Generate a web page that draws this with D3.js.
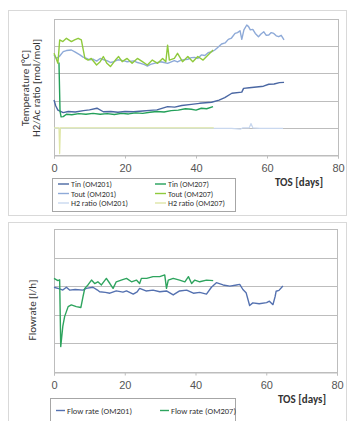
<!DOCTYPE html>
<html>
<head>
<meta charset="utf-8">
<script src="https://cdn.jsdelivr.net/npm/d3@7/dist/d3.min.js"></script>
<style>
  body { margin: 0; background: #fff; }
  svg { display: block; font-family: Calibri, Carlito, "Liberation Sans", Arial, sans-serif; }
</style>
</head>
<body>
<svg id="chart" width="350" height="421"></svg>
<script>
// x ticks (TOS days)
const xTicks = [0, 20, 40, 60, 80];

// temperature panel, [day, value], value in grid units (no y labels in source)
const tinOM201 = [[0,2.02],[0.5,1.8],[1.1,1.65],[2.6,1.56],[4,1.6],[6,1.58],[8.3,1.63],[10,1.66],[12.1,1.72],[13.9,1.59],[16,1.6],[18,1.57],[20,1.6],[22.4,1.59],[25,1.62],[27,1.64],[29,1.66],[32,1.78],[34,1.76],[36,1.82],[38.7,1.86],[41,1.9],[44.4,1.94],[46.5,2.02],[48.1,2.11],[50.1,2.27],[52.9,2.31],[53.4,2.45],[55,2.47],[57.7,2.51],[59,2.53],[60.5,2.6],[62,2.61],[63.5,2.66],[64.8,2.67]];
const toutOM201 = [[0,3.68],[0.7,3.55],[1.5,3.62],[2.6,3.8],[3.5,3.84],[4.9,3.86],[6,3.78],[7.3,3.68],[8.2,3.6],[9.2,3.55],[10,3.5],[11.1,3.52],[12,3.45],[13,3.55],[14,3.5],[14.9,3.47],[16,3.4],[16.8,3.43],[18,3.5],[18.7,3.49],[20,3.45],[20.6,3.43],[22.5,3.46],[23.5,3.4],[24.4,3.37],[25.5,3.32],[26.3,3.27],[27.2,3.33],[28.2,3.37],[30.1,3.43],[31,3.4],[32,3.37],[33.9,3.47],[34.8,3.42],[35.8,3.49],[37.7,3.52],[38.7,3.58],[39.6,3.59],[40.5,3.55],[41.5,3.68],[42.5,3.66],[43.4,3.76],[44.5,3.8],[45.3,3.86],[46.2,3.96],[47.2,4.08],[48.2,4.12],[49.1,4.25],[50,4.3],[51,4.47],[51.7,4.5],[52.4,4.57],[52.9,4.25],[53.5,4.6],[54.3,4.78],[54.8,4.72],[55.3,4.6],[56,4.62],[56.7,4.47],[57.6,4.35],[58.3,4.45],[59.1,4.53],[59.8,4.4],[60.5,4.41],[61.2,4.5],[61.9,4.47],[62.6,4.38],[63.3,4.35],[64,4.4],[64.8,4.23]];
const h2OM201 = [[0,0.98],[10,0.98],[20,0.98],[30,0.98],[40,0.98],[50,0.98],[52.5,0.95],[53.2,1.0],[55,1.0],[55.5,1.16],[56,1.0],[58,0.98],[62,0.98],[64.5,0.98]];
const tinOM207 = [[1.4,3.4],[1.7,1.6],[2.0,1.4],[2.6,1.41],[3.5,1.5],[5,1.48],[7,1.52],[9,1.5],[11,1.53],[13,1.5],[15,1.52],[17,1.49],[19,1.53],[21,1.51],[23,1.55],[25,1.53],[27,1.57],[29,1.6],[31,1.58],[33,1.63],[35,1.65],[37,1.7],[38.7,1.68],[40,1.65],[41.5,1.72],[43,1.7],[44.8,1.78]];
const toutOM207 = [[0,3.74],[0.6,3.55],[1.1,3.37],[1.6,4.23],[2.5,4.17],[3.5,4.29],[4.9,4.17],[5.8,4.23],[6.8,4.29],[7.7,4.23],[8.7,3.55],[9.6,3.49],[10.5,3.55],[12,3.31],[13,3.43],[13.9,3.62],[14.9,3.37],[15.9,3.25],[17.3,3.49],[18.2,3.62],[19.2,3.43],[20.6,3.55],[22,3.37],[23.5,3.55],[24.9,3.43],[26.3,3.31],[27.7,3.49],[29.2,3.37],[30.6,3.55],[31.5,3.43],[32,4.04],[32.5,3.49],[33.9,3.55],[34.8,3.74],[36.2,3.43],[37.7,3.62],[39.1,3.43],[40.5,3.62],[42,3.49],[43.4,3.68],[44.8,3.86]];
const h2OM207 = [[0,1.0],[1.4,1.0],[1.6,0.05],[1.8,1.0],[10,1.0],[20,1.0],[30,1.0],[40,1.0],[45,1.0]];

// flow panel
const flowOM201 = [[0,2.96],[1.6,2.9],[2.5,2.86],[3.5,2.96],[4.4,2.86],[6,2.88],[8.2,2.86],[9.1,2.92],[11,2.96],[12.3,2.86],[12.9,2.8],[14.5,2.78],[15.8,2.75],[17.6,2.83],[19.5,2.79],[20.5,2.83],[22.4,2.72],[23.5,2.8],[24.2,2.92],[26,2.83],[28,2.86],[29.9,2.8],[31.8,2.83],[33.7,2.69],[35.5,2.83],[37.5,2.86],[39.4,2.75],[41.2,2.78],[43.1,2.72],[44.5,2.96],[45.9,3.12],[47.8,3.04],[49.7,3.0],[51.6,3.04],[52.5,3.06],[53.4,2.88],[54.3,2.77],[55.3,2.32],[56.2,2.41],[58,2.38],[60.1,2.42],[60.9,2.47],[61.9,2.35],[62.5,2.63],[62.8,2.82],[63.6,2.85],[64.7,3.0]];
const flowOM207 = [[0,3.27],[1.1,3.19],[1.6,3.22],[1.9,0.88],[2.5,1.6],[3.0,1.93],[4.0,2.28],[4.9,2.34],[6.3,2.28],[7.6,2.25],[8.2,2.63],[8.7,2.92],[9.6,3.04],[10.6,3.21],[11.5,3.09],[12.4,3.15],[13.4,3.04],[14.8,3.27],[15.8,3.09],[16.7,2.92],[17.6,3.15],[19,3.21],[20.5,3.27],[21.9,3.15],[23.3,3.21],[24.2,3.09],[24.7,3.27],[26.2,3.27],[28,3.33],[29.9,3.33],[31.3,3.39],[31.8,2.92],[32.3,3.21],[33.7,3.27],[35.5,3.21],[37,3.15],[38,3.33],[38.9,3.09],[39.8,3.21],[41.2,3.15],[43.1,3.21],[45,3.19]];

const svg = d3.select('#chart');

// outer frames
svg.append('rect').attr('x', 8.5).attr('y', 10.5).attr('width', 338).attr('height', 205)
  .attr('fill', 'none').attr('stroke', '#d9d9d9');
svg.append('rect').attr('x', 8.5).attr('y', 222.5).attr('width', 338).attr('height', 210)
  .attr('fill', 'none').attr('stroke', '#d9d9d9');

function drawPanel(cfg) {
  const x = d3.scaleLinear().domain([0, 80]).range([cfg.left, cfg.right]);
  const y = d3.scaleLinear().domain([0, 5]).range([cfg.bottom, cfg.top]);
  const g = svg.append('g');

  // horizontal grid
  g.selectAll('line.grid').data(d3.range(0, 6)).join('line')
    .attr('x1', cfg.left).attr('x2', cfg.right)
    .attr('y1', d => Math.round(y(d)) + 0.5).attr('y2', d => Math.round(y(d)) + 0.5)
    .attr('stroke', '#bdbdbd').attr('stroke-width', 1);
  // plot box sides
  g.append('line').attr('x1', cfg.left + 0.5).attr('x2', cfg.left + 0.5)
    .attr('y1', cfg.top).attr('y2', cfg.bottom + 3).attr('stroke', '#bdbdbd');
  g.append('line').attr('x1', cfg.right + 0.5).attr('x2', cfg.right + 0.5)
    .attr('y1', cfg.top).attr('y2', cfg.bottom + 3).attr('stroke', '#bdbdbd');

  // x axis
  const ax = g.append('g').attr('transform', 'translate(0,' + (Math.round(cfg.bottom) + 0.5) + ')')
    .call(d3.axisBottom(x).tickValues(xTicks).tickSize(3).tickPadding(6));
  ax.select('.domain').attr('stroke', '#bdbdbd');
  ax.selectAll('.tick line').attr('stroke', '#bdbdbd');
  ax.selectAll('.tick text').attr('font-size', 11).attr('fill', '#555');

  g.append('text').attr('x', cfg.tosX).attr('y', cfg.bottom + 31)
    .attr('text-anchor', 'end').attr('font-size', 11).attr('font-weight', 'bold').attr('fill', '#333')
    .text('TOS [days]');

  // y label lines
  cfg.ylabels.forEach((t, i) => {
    g.append('text')
      .attr('transform', 'translate(' + cfg.ylabelX[i] + ',' + cfg.ylabelY + ') rotate(-90)')
      .attr('text-anchor', 'middle').attr('font-size', 11).attr('fill', '#333')
      .text(t);
  });

  const line = d3.line().x(d => x(d[0])).y(d => y(d[1]));
  cfg.series.forEach(s => {
    g.append('path').datum(s.data).attr('d', line)
      .attr('fill', 'none').attr('stroke', s.color).attr('stroke-width', s.w || 1.4)
      .attr('stroke-linejoin', 'round');
  });

  // legend
  const L = cfg.legend;
  const lg = g.append('g');
  lg.append('rect').attr('x', L.x + 0.5).attr('y', L.y + 0.5)
    .attr('width', L.w).attr('height', L.h)
    .attr('fill', '#fff').attr('stroke', '#a6a6a6');
  cfg.series.forEach((s, i) => {
    const col = i % 2;
    const row = Math.floor(i / 2);
    const lx = L.x + 6 + col * L.colW;
    const ly = L.y + L.dy + row * 9.5;
    lg.append('line').attr('x1', lx).attr('x2', lx + L.sw).attr('y1', ly).attr('y2', ly)
      .attr('stroke', s.color).attr('stroke-width', 1.4);
    lg.append('text').attr('x', lx + L.sw + 2).attr('y', ly + 3)
      .attr('font-size', L.fs).attr('fill', '#333').text(s.name);
  });
}

drawPanel({
  left: 54, right: 338, top: 19, bottom: 155, tosX: 323,
  ylabels: ['Temperature [°C]', 'H2/Ac ratio [mol/mol]'], ylabelX: [29, 40], ylabelY: 88,
  series: [
    {name: 'Tin (OM201)', data: tinOM201, color: '#4a67a3'},
    {name: 'Tin (OM207)', data: tinOM207, color: '#23a05a'},
    {name: 'Tout (OM201)', data: toutOM201, color: '#8eaad8'},
    {name: 'Tout (OM207)', data: toutOM207, color: '#8fca3c'},
    {name: 'H2 ratio (OM201)', data: h2OM201, color: '#c9d8ef', w: 1.2},
    {name: 'H2 ratio (OM207)', data: h2OM207, color: '#dfe6a6', w: 1.2}
  ],
  legend: {x: 52, y: 178, w: 183, h: 33, colW: 97, dy: 6, sw: 11, fs: 8}
});

drawPanel({
  left: 54, right: 337, top: 229, bottom: 371.7, tosX: 326,
  ylabels: ['Flowrate [l/h]'], ylabelX: [36], ylabelY: 310,
  series: [
    {name: 'Flow rate (OM201)', data: flowOM201, color: '#5471b0'},
    {name: 'Flow rate (OM207)', data: flowOM207, color: '#2ea45e'}
  ],
  legend: {x: 50, y: 398, w: 185, h: 30, colW: 104, dy: 12.5, sw: 9, fs: 8.5}
});
</script>
</body>
</html>
